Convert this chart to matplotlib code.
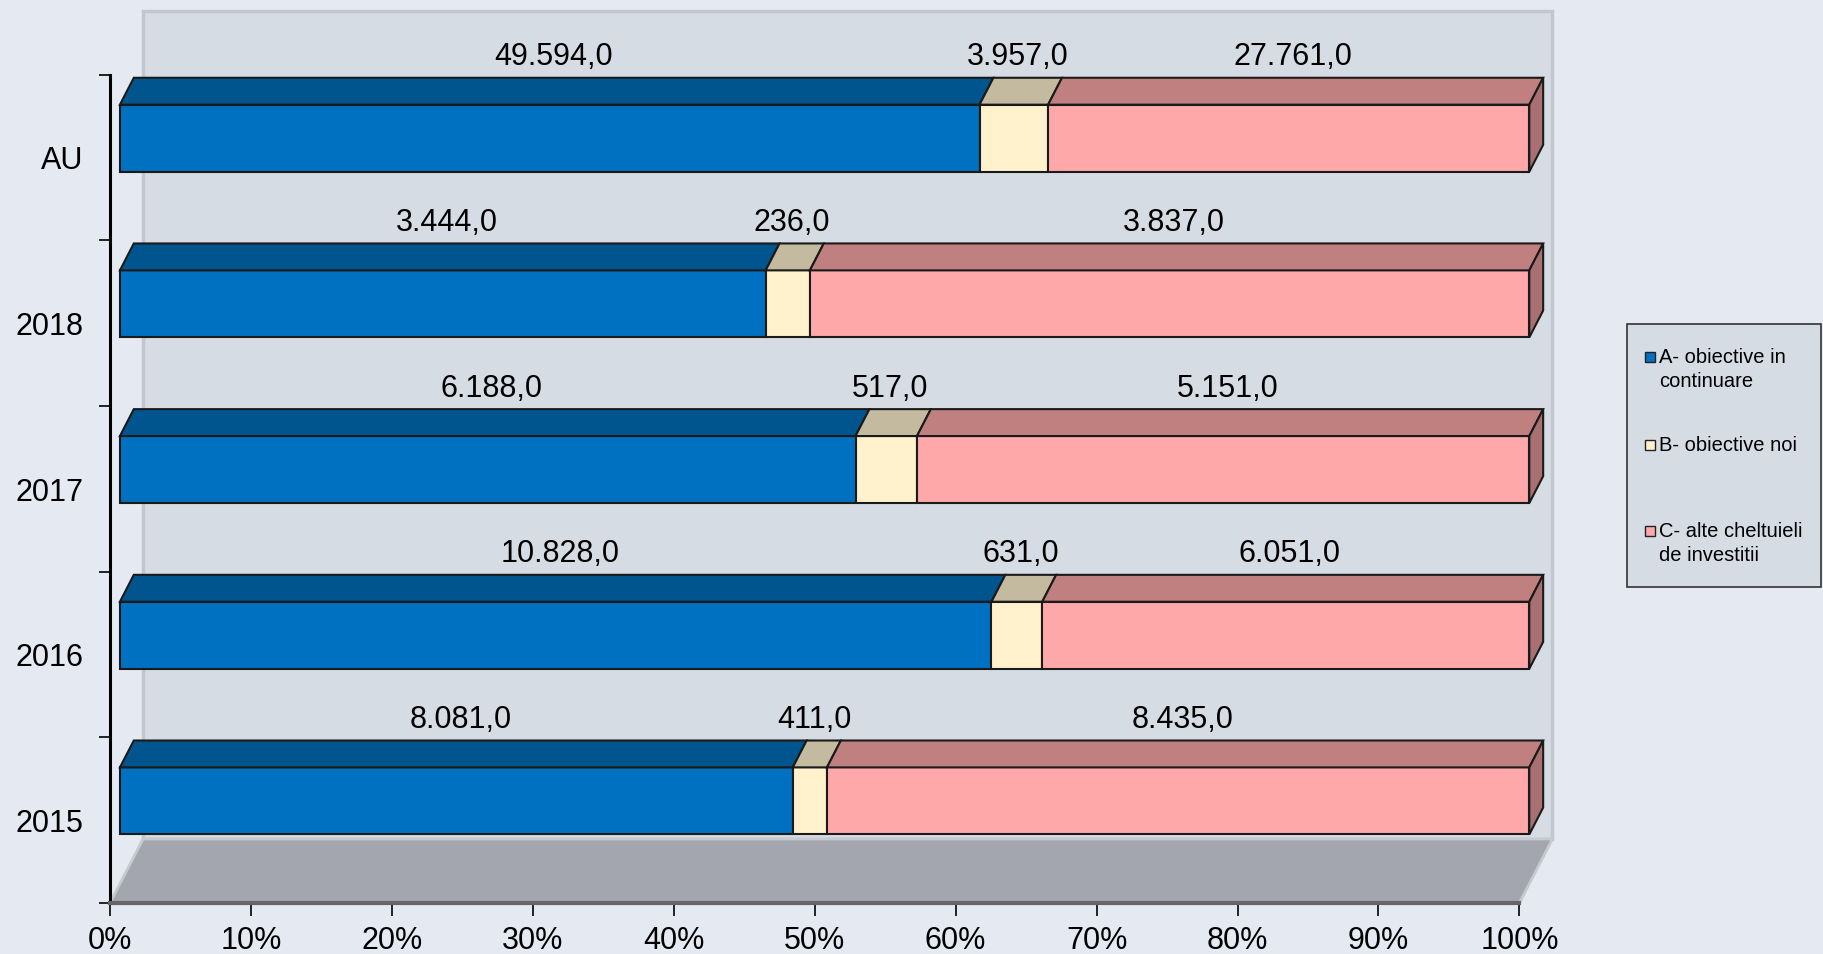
import matplotlib
matplotlib.use("Agg")
import matplotlib.pyplot as plt
from matplotlib.patches import Polygon, Rectangle
import numpy as np

plt.rcParams['font.family'] = ['Liberation Sans', 'DejaVu Sans']

# ---------------- data ----------------
categories = ["2015", "2016", "2017", "2018", "AU"]
serie_a = [8081.0, 10828.0, 6188.0, 3444.0, 49594.0]
serie_b = [411.0, 631.0, 517.0, 236.0, 3957.0]
serie_c = [8435.0, 6051.0, 5151.0, 3837.0, 27761.0]
series_names = ["A- obiective in\ncontinuare", "B- obiective noi",
                "C- alte cheltuieli\nde investitii"]
x_ticks = [0, 10, 20, 30, 40, 50, 60, 70, 80, 90, 100]
x_tick_labels = ["0%", "10%", "20%", "30%", "40%", "50%", "60%", "70%",
                 "80%", "90%", "100%"]

# ---------------- style ----------------
front_colors = ["#0070C0", "#FFF2CC", "#FFA8AA"]
top_colors = ["#00558F", "#C4BA9F", "#C08080"]
side_color = "#A87070"
fig_bg = "#E5E9F2"
wall_color = "#D6DCE4"
floor_color = "#A3A6AE"

W, H = 1823, 954
fig = plt.figure(figsize=(18.2349, 9.5449), dpi=100, facecolor=fig_bg)
ax = fig.add_axes([110 / W, 51 / H, 1409 / W, 828 / H])
ax.set_xlim(0, 100)
ax.set_ylim(0, 5)
ax.patch.set_visible(False)

px_x = 100 / 1409
px_y = 5 / 828
depth_dx = 33 * px_x
depth_dy = 64 * px_y

# back wall and floor
ax.add_patch(Rectangle((depth_dx, depth_dy), 100, 5, fc=wall_color,
                       ec="#C3C7CD", lw=2.5, clip_on=False, zorder=0))
ax.add_patch(Polygon([(0, 0), (100, 0), (100 + depth_dx, depth_dy),
                      (depth_dx, depth_dy)], closed=True, fc=floor_color,
                     ec="#C6C9CF", lw=2, clip_on=False, zorder=1))

def fmt(v):
    s = f"{v:,.1f}"
    return s.replace(",", "X").replace(".", ",").replace("X", ".")

data = np.array([serie_a, serie_b, serie_c])
totals = data.sum(axis=0)
pcts = data / totals * 100

f0, f1 = 0.30, 0.72
ox, oy = f0 * depth_dx, f0 * depth_dy
tx, ty = (f1 - f0) * depth_dx, (f1 - f0) * depth_dy
bar_h = 67 * px_y

for i, cat in enumerate(categories):
    yc = i + 0.5 + oy
    y0 = yc - bar_h / 2
    y1 = yc + bar_h / 2
    left = 0.0
    for s in range(3):
        w = pcts[s, i]
        ax.barh(yc, w, left=left + ox, height=bar_h, color=front_colors[s],
                edgecolor="#1A1A1A", lw=1.5, zorder=3, clip_on=False)
        ax.add_patch(Polygon([(left + ox, y1), (left + w + ox, y1),
                              (left + w + ox + tx, y1 + ty),
                              (left + ox + tx, y1 + ty)], closed=True,
                             fc=top_colors[s], ec="#1A1A1A", lw=1.5,
                             zorder=3, clip_on=False))
        if s == 2:
            xr = left + w + ox
            ax.add_patch(Polygon([(xr, y0), (xr, y1), (xr + tx, y1 + ty),
                                  (xr + tx, y0 + ty)], closed=True,
                                 fc=side_color, ec="#1A1A1A", lw=1.5,
                                 zorder=3, clip_on=False))
        ax.text(left + w / 2 + ox + tx * 0.3, y1 + ty + 21 * px_y,
                fmt(data[s, i]), ha="center", va="center", fontsize=22,
                color="black", zorder=5)
        left += w

# axes
for side in ["top", "right"]:
    ax.spines[side].set_visible(False)
ax.spines["left"].set_color("black")
ax.spines["left"].set_linewidth(2.2)
ax.spines["left"].set_zorder(6)
ax.spines["bottom"].set_color("#666666")
ax.spines["bottom"].set_linewidth(3)
ax.spines["bottom"].set_zorder(6)

ax.set_xticks(x_ticks)
ax.set_xticklabels(x_tick_labels, fontsize=22)
ax.tick_params(axis="x", length=9, width=1.2, color="black", pad=7)

ax.set_yticks(range(6))
ax.set_yticklabels([])
ax.set_yticks([i + 0.5 for i in range(len(categories))], minor=True)
ax.set_yticklabels(categories, minor=True, fontsize=22)
ax.tick_params(axis="y", which="major", length=8, width=1.2, color="black")
ax.tick_params(axis="y", which="minor", length=0, pad=19)

# legend
fig.add_artist(Rectangle((1627 / W, 1 - 587 / H), (1821 - 1627) / W,
                         (587 - 324) / H, transform=fig.transFigure,
                         fc=wall_color, ec="#333333", lw=1.2))
first_line_y = [357, 445, 531]
for s, name in enumerate(series_names):
    yy = first_line_y[s]
    fig.add_artist(Rectangle((1645 / W, 1 - (yy + 5) / H), 10 / W, 10 / H,
                             transform=fig.transFigure, fc=front_colors[s],
                             ec="#222222", lw=1))
    for k, line in enumerate(name.split("\n")):
        fig.text(1659 / W, 1 - (yy + k * 24) / H, line, fontsize=14.5,
                 ha="left", va="center", color="black")

fig.savefig("out.png", dpi=100, facecolor=fig_bg)
